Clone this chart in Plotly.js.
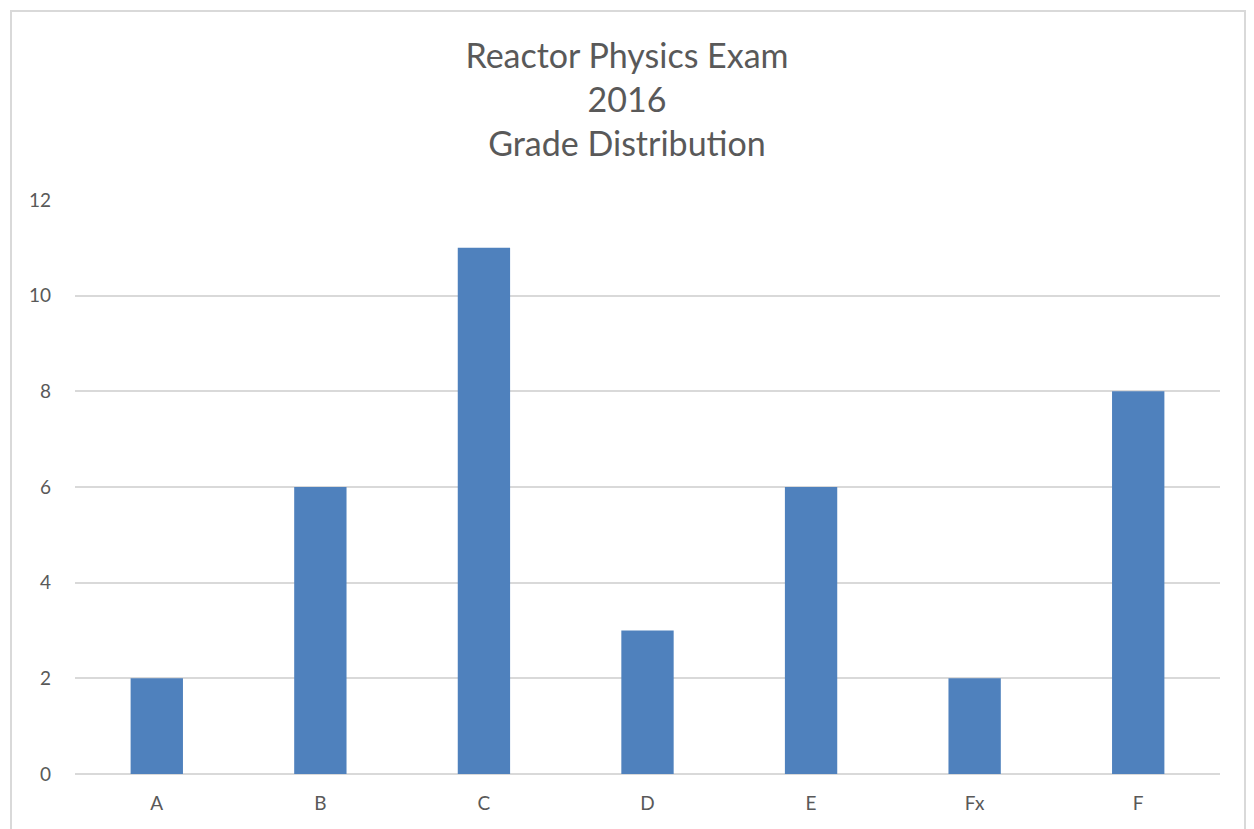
<!DOCTYPE html>
<html>
<head>
<meta charset="utf-8">
<script src="https://cdn.plot.ly/plotly-3.0.1.min.js"></script>
<style>
html,body{margin:0;padding:0;background:#fff;overflow:hidden;}
#frame{position:absolute;left:10px;top:10px;width:1236px;height:840px;border:2px solid #d9d9d9;box-sizing:border-box;pointer-events:none;z-index:5;}
#chart{position:absolute;left:0;top:0;width:1254px;height:829px;}
</style>
</head>
<body>
<div id="chart"></div>
<div id="frame"></div>
<script>
const grades = ["A", "B", "C", "D", "E", "Fx", "F"];
const counts = [2, 6, 11, 3, 6, 2, 8];
const yTicks = [0, 2, 4, 6, 8, 10, 12];

const font = "Lato, 'Open Sans', sans-serif";
const data = [{
  type: "bar",
  x: grades,
  y: counts,
  marker: {color: "#4f81bd"},
  hoverinfo: "x+y"
}];
const layout = {
  width: 1254, height: 829,
  margin: {l: 75, r: 34, t: 200, b: 55},
  paper_bgcolor: "rgba(0,0,0,0)",
  plot_bgcolor: "rgba(0,0,0,0)",
  bargap: 0.68,
  showlegend: false,
  title: {
    text: "Reactor Physics Exam<br>2016<br>Grade Distribution",
    font: {family: font, size: 34, color: "#595959"},
    x: 0.5, xref: "container", xanchor: "center",
    y: 1 - 68/829, yref: "container", yanchor: "middle"
  },
  xaxis: {
    type: "category",
    tickfont: {family: font, size: 19, color: "#595959"},
    showgrid: false, zeroline: false,
    showline: false, ticks: "",
    ticklabelstandoff: 16
  },
  yaxis: {
    range: [0, 12],
    tickvals: yTicks,
    tickfont: {family: font, size: 19, color: "#595959"},
    showgrid: true, gridcolor: "#d9d9d9", gridwidth: 1.5,
    zeroline: true, zerolinecolor: "#d9d9d9", zerolinewidth: 2,
    showline: false, ticks: "",
    ticklabelstandoff: 23
  },
  font: {family: font}
};
Plotly.newPlot("chart", data, layout, {displayModeBar: false, staticPlot: false});
</script>
</body>
</html>
